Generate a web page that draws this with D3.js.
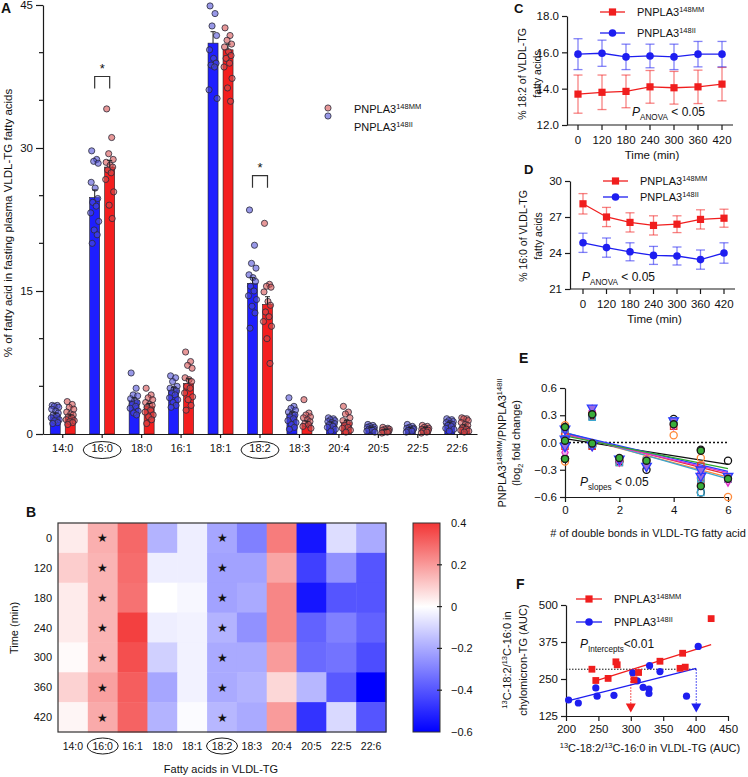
<!DOCTYPE html>
<html><head><meta charset="utf-8">
<script src="https://cdn.jsdelivr.net/npm/d3@7"></script>
<style>
body{margin:0;background:#fff}
svg{display:block}
text{font-family:'Liberation Sans',Arial,Helvetica,sans-serif;fill:#111}
</style>
</head><body>
<svg id="c" width="748" height="777"></svg>
<script>
// ---------------- DATA ----------------
const catsA = ["14:0","16:0","18:0","16:1","18:1","18:2","18:3","20:4","20:5","22:5","22:6"];
const meanII = [2.0,24.8,3.5,4.6,41.0,15.8,2.1,1.1,0.6,0.55,1.1];
const meanMM = [1.8,28.0,2.9,5.3,40.3,13.6,1.1,1.2,0.4,0.6,0.8];
const semII  = [0.2,0.8,0.3,0.3,1.2,0.6,0.2,0.15,0.1,0.1,0.15];
const semMM  = [0.2,0.7,0.3,0.5,0.6,0.8,0.25,0.25,0.06,0.1,0.15];
const ptsII = [
 [3.0,3.0,2.9,2.8,2.6,2.4,2.2,2.0,1.9,1.7,1.5,1.4,1.2,1.1],
 [29.7,28.8,28.6,28.4,26.4,25.8,24.7,24.3,23.9,23.2,22.3,21.4,20.9,20.0],
 [6.4,4.8,4.1,4.0,3.7,3.5,3.3,3.1,2.9,2.7,2.4,2.2,2.0],
 [6.1,5.9,5.5,5.0,4.8,4.7,4.5,4.3,4.1,3.8,3.6,3.3,3.0,2.8],
 [44.9,44.1,42.8,41.8,40.3,39.4,38.9,38.7,38.5,36.1,35.2],
 [23.5,19.8,17.9,17.4,16.7,16.4,16.0,15.5,15.0,14.5,14.1,13.4,12.7,11.1],
 [3.8,2.9,2.7,2.5,2.3,2.1,2.0,1.8,1.6,1.4,1.2,1.0,0.7,0.5],
 [1.7,1.6,1.5,1.4,1.3,1.2,1.1,1.0,0.8,0.7,0.5,0.3],
 [1.0,0.9,0.8,0.7,0.7,0.6,0.5,0.5,0.4,0.3,0.2],
 [1.0,0.8,0.7,0.6,0.6,0.5,0.5,0.4,0.3,0.2],
 [1.6,1.5,1.4,1.3,1.2,1.1,1.0,0.9,0.8,0.6,0.5,0.3]
];
const ptsMM = [
 [3.4,3.1,2.8,2.6,2.3,2.1,2.0,1.8,1.7,1.5,1.4,1.3,1.2,1.0],
 [34.1,31.1,29.4,28.8,28.5,28.2,28.0,27.7,27.4,26.7,25.4,24.0,22.6],
 [4.8,4.1,3.8,3.6,3.3,3.1,3.0,2.8,2.5,2.3,2.0,1.8,1.5,1.1],
 [8.6,7.6,7.2,6.9,5.9,5.7,5.5,5.0,4.8,4.3,3.9,3.6,3.0,2.5],
 [42.6,41.8,41.3,40.9,40.6,40.1,39.7,39.4,38.9,38.5,37.3,36.3,34.9],
 [22.1,15.7,15.5,15.4,14.9,13.9,13.5,12.8,12.3,11.8,11.3,10.0,7.4],
 [3.6,2.2,2.0,1.8,1.7,1.5,1.3,1.1,1.0,0.8,0.6],
 [2.9,2.3,2.1,1.7,1.4,1.2,1.1,0.9,0.7,0.6,0.4,0.2],
 [0.7,0.6,0.5,0.5,0.4,0.3,0.3,0.2,0.2,0.1],
 [0.9,0.8,0.7,0.6,0.5,0.5,0.4,0.3,0.2,0.1],
 [1.7,1.6,1.6,1.4,1.2,1.0,0.9,0.7,0.5,0.4,0.3,0.2]
];
const sigCats = ["16:0","18:2"];
const sigLevel = [37.5, 27.1];
const yTicksA = [0,15,30,45];

const heatCats = ["14:0","16:0","16:1","18:0","18:1","18:2","18:3","20:4","20:5","22:5","22:6"];
const doubleBonds = [0,0,1,0,1,2,3,4,5,5,6];
const times = ["0","120","180","240","300","360","420"];
const heat = [
 [0.04,0.16,0.30,-0.18,-0.04,-0.21,-0.30,0.26,-0.55,-0.08,-0.20],
 [0.10,0.15,0.29,-0.04,-0.04,-0.22,-0.22,0.18,-0.45,-0.26,-0.40],
 [0.04,0.15,0.28,0.00,-0.02,-0.22,-0.20,0.24,-0.55,-0.40,-0.40],
 [0.04,0.15,0.38,-0.04,-0.03,-0.18,-0.26,0.24,-0.37,-0.30,-0.37],
 [0.01,0.15,0.35,-0.11,-0.03,-0.20,-0.20,0.20,-0.35,-0.33,-0.42],
 [0.09,0.19,0.32,-0.21,-0.03,-0.20,-0.18,0.08,-0.17,-0.39,-0.60],
 [0.02,0.17,0.31,-0.18,-0.01,-0.17,-0.20,0.20,-0.48,-0.09,-0.40]
];
const cbarTicks = [0.4,0.2,0,-0.2,-0.4,-0.6];

const c182MM = [13.7,13.8,13.85,14.1,14.05,14.1,14.25];
const c182MMerr = [1.05,0.95,0.9,0.9,0.9,0.92,0.92];
const c182II = [15.9,15.95,15.75,15.8,15.75,15.9,15.9];
const c182IIerr = [0.85,0.72,0.7,0.65,0.7,0.7,0.7];
const d160MM = [28.1,27.0,26.55,26.3,26.4,26.8,26.9];
const d160MMerr = [0.85,0.8,0.8,0.8,0.7,0.8,0.75];
const d160II = [24.85,24.45,24.1,23.8,23.75,23.45,24.0];
const d160IIerr = [0.8,0.8,0.75,0.75,0.75,0.8,0.85];

const fxMM = [240,246,265,277,279,305,312,345,380,376,384,424];
const fyMM = [283,245,252,308,298,247,272,310,337,286,290,454];
const fxII = [204,219,246,248,274,303,310,319,328,328,329,345,386,404];
const fyII = [179,169,220,192,195,271,244,222,216,201,295,275,192,360];
const fitMM = [[242,241],[424,366]];
const fitII = [[206,178],[401,286]];
const refY = 283, refXMM = 300, refXII = 401, arrowY = 154;

// ---------------- HELPERS ----------------
const svg = d3.select("#c");
svg.append("rect").attr("width",748).attr("height",777).attr("fill","#fff");
const INK = "#1a1a1a";
function rich(g, x, y, parts, size, o = {}) {
  const t = g.append("text").attr("x", x).attr("y", y).attr("font-size", size);
  if (o.anchor) t.attr("text-anchor", o.anchor);
  if (o.rotate) t.attr("transform", `rotate(-90,${x},${y})`);
  if (o.bold) t.attr("font-weight", "bold");
  let shift = 0;
  parts.forEach(p => {
    const s = typeof p === "string" ? {t: p} : p;
    const target = s.sup ? -size * 0.4 : s.sub ? size * 0.3 : 0;
    const ts = t.append("tspan").text(s.t).attr("dy", target - shift);
    shift = target;
    if (s.sup || s.sub) ts.attr("font-size", size * 0.68);
    if (s.it) ts.attr("font-style", "italic");
  });
  return t;
}
function label(g, x, y, txt, size, anchor = "start") {
  return g.append("text").attr("x", x).attr("y", y).attr("font-size", size)
    .attr("text-anchor", anchor).text(txt);
}
function styleAxis(a, fs = 11) {
  a.selectAll("path,line").attr("stroke", INK).attr("stroke-width", 1.2);
  a.selectAll("text").attr("font-size", fs).attr("fill", "#111")
    .attr("font-family", "'Liberation Sans',Arial,Helvetica,sans-serif");
}
const jit = [-3, 2, -1, 3.5, -3.5, 0.5, 3, -2, 1.5, -4, 4, -0.5, 2.5, -2.5, 1];

// ---------------- PANEL A ----------------
const gA = svg.append("g");
const xA = d3.scaleBand().domain(catsA).range([43, 477]);
const yA = d3.scaleLinear().domain([0, 45]).range([434, 5]);
const cA = c => xA(c) + xA.bandwidth() / 2;
const groupsA = [
  {means: meanII, sem: semII, pts: ptsII, bar: "#1e1eff", dot: "#4d4dd6", off: -7.5},
  {means: meanMM, sem: semMM, pts: ptsMM, bar: "#f41e1e", dot: "#d64d4d", off: 7.5}
];
groupsA.forEach(gr => {
  gA.selectAll(null).data(catsA).enter().append("rect")
    .attr("x", (c) => cA(c) + gr.off - 5).attr("width", 10)
    .attr("y", (c, i) => yA(gr.means[i])).attr("height", (c, i) => yA(0) - yA(gr.means[i]))
    .attr("fill", gr.bar).attr("stroke", "#222").attr("stroke-width", 0.6);
});
groupsA.forEach(gr => {
  catsA.forEach((c, i) => {
    gA.selectAll(null).data(gr.pts[i]).enter().append("circle")
      .attr("cx", (v, k) => cA(c) + gr.off + jit[k % jit.length])
      .attr("cy", v => yA(v)).attr("r", 3.1)
      .attr("fill", gr.dot).attr("fill-opacity", 0.58)
      .attr("stroke", "#2a2a38").attr("stroke-width", 0.8);
  });
});
groupsA.forEach(gr => {
  catsA.forEach((c, i) => {
    const x = cA(c) + gr.off, y0 = yA(gr.means[i]), y1 = yA(gr.means[i] + gr.sem[i]);
    gA.append("line").attr("x1", x).attr("x2", x).attr("y1", y0).attr("y2", y1).attr("stroke", "#222").attr("stroke-width", 1);
    gA.append("line").attr("x1", x - 2.5).attr("x2", x + 2.5).attr("y1", y1).attr("y2", y1).attr("stroke", "#222").attr("stroke-width", 1);
  });
});
const axA = gA.append("g").attr("transform", "translate(43,0)")
  .call(d3.axisLeft(yA).tickValues(yTicksA).tickSize(7).tickSizeOuter(0).tickPadding(3));
styleAxis(axA, 11.5);
const minorA = d3.range(5, 45, 5).filter(v => v % 15 !== 0);
gA.selectAll(null).data(minorA).enter().append("line")
  .attr("x1", 39).attr("x2", 43).attr("y1", v => yA(v)).attr("y2", v => yA(v))
  .attr("stroke", INK).attr("stroke-width", 1.2);
const axAx = gA.append("g").attr("transform", "translate(0,434)")
  .call(d3.axisBottom(xA).tickSize(4).tickSizeOuter(0).tickPadding(6));
styleAxis(axAx, 11);
sigCats.forEach((c, j) => {
  gA.append("ellipse").attr("cx", cA(c)).attr("cy", 450).attr("rx", 19).attr("ry", 8.5)
    .attr("fill", "none").attr("stroke", INK).attr("stroke-width", 1);
  const top = yA(sigLevel[j]);
  const xb = cA(c) - 7.5, xr = cA(c) + 7.5;
  gA.append("path").attr("d", `M${xb},${top + 12}V${top}H${xr}V${top + 12}`)
    .attr("fill", "none").attr("stroke", "#333").attr("stroke-width", 1.2);
  label(gA, cA(c), top - 4, "*", 13, "middle");
});
rich(gA, 12, 223, ["% of fatty acid in fasting plasma VLDL-TG fatty acids"], 11.5, {anchor: "middle", rotate: true});
[{y: 108, ty: 113, col: "#d64d4d", sup: "148MM"}, {y: 116, ty: 131, col: "#4d4dd6", sup: "148II"}].forEach(l => {
  gA.append("circle").attr("cx", 328).attr("cy", l.y).attr("r", 3.1).attr("fill", l.col).attr("fill-opacity", 0.58)
    .attr("stroke", "#2a2a38").attr("stroke-width", 0.8);
  rich(gA, 354, l.ty, ["PNPLA3", {t: l.sup, sup: true}], 11);
});
label(gA, 1, 13, "A", 14).attr("font-weight", "bold");

// ---------------- PANEL B ----------------
const gB = svg.append("g");
const xB = d3.scaleBand().domain(heatCats).range([58, 386]);
const yB = d3.scaleBand().domain(times).range([523, 732]);
const color = d3.scaleLinear().domain([-0.6, 0, 0.4]).range(["#0000ff", "#ffffff", "#f23636"]);
times.forEach((t, r) => {
  heatCats.forEach((c, k) => {
    gB.append("rect").attr("x", xB(c)).attr("y", yB(t)).attr("width", xB.bandwidth() + 0.5)
      .attr("height", yB.bandwidth() + 0.5).attr("fill", color(heat[r][k]));
  });
  sigCats.forEach(c => {
    label(gB, xB(c) + xB.bandwidth() / 2, yB(t) + yB.bandwidth() / 2 + 4.5, "★", 12, "middle");
  });
  label(gB, 52, yB(t) + yB.bandwidth() / 2 + 4, t, 11, "end");
});
gB.append("rect").attr("x", 58).attr("y", 523).attr("width", 328).attr("height", 209)
  .attr("fill", "none").attr("stroke", "#333").attr("stroke-width", 1.2);
heatCats.forEach(c => label(gB, xB(c) + xB.bandwidth() / 2, 750, c, 10.5, "middle"));
sigCats.forEach(c => gB.append("ellipse").attr("cx", xB(c) + xB.bandwidth() / 2).attr("cy", 746)
  .attr("rx", 15.5).attr("ry", 8).attr("fill", "none").attr("stroke", INK).attr("stroke-width", 1));
label(gB, 221, 773, "Fatty acids in VLDL-TG", 11, "middle");
rich(gB, 18, 628, ["Time (min)"], 11, {anchor: "middle", rotate: true});
label(gB, 26, 517, "B", 14).attr("font-weight", "bold");
const yCb = d3.scaleLinear().domain([-0.6, 0.4]).range([732, 523]);
const defs = svg.append("defs");
const grad = defs.append("linearGradient").attr("id", "cb").attr("x1", 0).attr("x2", 0).attr("y1", 1).attr("y2", 0);
d3.range(-0.6, 0.401, 0.05).forEach(v => grad.append("stop")
  .attr("offset", (v + 0.6) / 1.0).attr("stop-color", color(v)));
gB.append("rect").attr("x", 413).attr("y", 523).attr("width", 27).attr("height", 209)
  .attr("fill", "url(#cb)").attr("stroke", "#333").attr("stroke-width", 1);
cbarTicks.forEach(v => {
  if (v > -0.6 && v < 0.4) gB.append("line").attr("x1", 437).attr("x2", 442).attr("y1", yCb(v)).attr("y2", yCb(v))
    .attr("stroke", "#222").attr("stroke-width", 1.2);
  label(gB, 451, yCb(v) + 4, v === 0 ? "0" : d3.format(".1f")(v), 11);
});

// ---------------- PANEL C & D ----------------
function marker(g, shape, x, y, col) {
  if (shape === "sq") g.append("rect").attr("x", x - 3.6).attr("y", y - 3.6).attr("width", 7.2).attr("height", 7.2).attr("fill", col);
  else g.append("circle").attr("cx", x).attr("cy", y).attr("r", 3.8).attr("fill", col);
}
function timePanel(cfg) {
  const g = svg.append("g");
  const x = d3.scalePoint().domain(times).range(cfg.xr);
  const y = d3.scaleLinear().domain(cfg.yd).range(cfg.yr);
  const ax = g.append("g").attr("transform", `translate(${cfg.ax},0)`)
    .call(d3.axisLeft(y).tickValues(cfg.yt).tickSize(5).tickSizeOuter(0).tickPadding(3));
  styleAxis(ax, 11.5);
  g.append("line").attr("x1", cfg.ax).attr("x2", cfg.xend).attr("y1", cfg.yr[0]).attr("y2", cfg.yr[0])
    .attr("stroke", INK).attr("stroke-width", 1.2);
  times.forEach(t => {
    g.append("line").attr("x1", x(t)).attr("x2", x(t)).attr("y1", cfg.yr[0]).attr("y2", cfg.yr[0] + 5)
      .attr("stroke", INK).attr("stroke-width", 1.2);
    label(g, x(t), cfg.yr[0] + 19, t, 11.5, "middle");
  });
  label(g, (cfg.ax + cfg.xend) / 2 + 2, cfg.yr[0] + 34, "Time (min)", 11.5, "middle");
  const line = d3.line().x((d, i) => x(times[i])).y(d => y(d));
  cfg.series.forEach(s => {
    s.vals.forEach((v, i) => {
      const xx = x(times[i]);
      g.append("line").attr("x1", xx).attr("x2", xx).attr("y1", y(v - s.err[i])).attr("y2", y(v + s.err[i]))
        .attr("stroke", s.col).attr("stroke-opacity", 0.55).attr("stroke-width", 1.3);
      [v - s.err[i], v + s.err[i]].forEach(e => g.append("line").attr("x1", xx - 4.5).attr("x2", xx + 4.5)
        .attr("y1", y(e)).attr("y2", y(e)).attr("stroke", s.col).attr("stroke-opacity", 0.55).attr("stroke-width", 1.3));
    });
    g.append("path").attr("d", line(s.vals)).attr("fill", "none").attr("stroke", s.col).attr("stroke-width", 1.3);
    s.vals.forEach((v, i) => marker(g, s.shape, x(times[i]), y(v), s.col));
  });
  cfg.series.forEach((s, k) => {
    const ly = cfg.legY[k];
    g.append("line").attr("x1", cfg.legX).attr("x2", cfg.legX + 25).attr("y1", ly).attr("y2", ly)
      .attr("stroke", s.col).attr("stroke-width", 1.3);
    marker(g, s.shape, cfg.legX + 12.5, ly, s.col);
    rich(g, cfg.legX + 37, ly + 4, ["PNPLA3", {t: s.sup, sup: true}], 11);
  });
  rich(g, cfg.pX, cfg.pY, [{t: "P", it: true}, {t: "ANOVA", sub: true}, " < 0.05"], 12);
  cfg.ylab.forEach((t, k) => rich(g, cfg.ylabX[k], cfg.ylabY, [t], 10.5, {anchor: "middle", rotate: true}));
  label(g, cfg.letter[1], cfg.letter[2], cfg.letter[0], 13).attr("font-weight", "bold");
}
timePanel({
  xr: [578, 722], yd: [12, 18], yr: [125, 16], ax: 567, xend: 733, yt: [12, 14, 16, 18],
  series: [
    {vals: c182MM, err: c182MMerr, col: "#f01e1e", shape: "sq", sup: "148MM"},
    {vals: c182II, err: c182IIerr, col: "#1e1ef0", shape: "ci", sup: "148II"}
  ],
  legX: 600, legY: [12, 33], pX: 632, pY: 116,
  ylab: ["% 18:2 of VLDL-TG", "fatty acids"], ylabX: [526, 541], ylabY: 74, letter: ["C", 514, 13]
});
timePanel({
  xr: [583, 724], yd: [21, 30], yr: [289, 181], ax: 570, xend: 735, yt: [21, 24, 27, 30],
  series: [
    {vals: d160MM, err: d160MMerr, col: "#f01e1e", shape: "sq", sup: "148MM"},
    {vals: d160II, err: d160IIerr, col: "#1e1ef0", shape: "ci", sup: "148II"}
  ],
  legX: 603, legY: [181, 197], pX: 582, pY: 281,
  ylab: ["% 16:0 of VLDL-TG", "fatty acids"], ylabX: [527, 542], ylabY: 236, letter: ["D", 524, 174]
});

// ---------------- PANEL E ----------------
const gE = svg.append("g");
const xE = d3.scaleLinear().domain([0, 6]).range([565, 728]);
const yE = d3.scaleLinear().domain([-0.6, 0.6]).range([497, 388]);
const axEy = gE.append("g").attr("transform", "translate(565,0)")
  .call(d3.axisLeft(yE).tickValues([-0.6, -0.3, 0, 0.3, 0.6]).tickFormat(d3.format(".1f")).tickSize(5).tickSizeOuter(0).tickPadding(3));
styleAxis(axEy, 11.5);
const axEx = gE.append("g").attr("transform", "translate(0,497)")
  .call(d3.axisBottom(xE).tickValues([0, 2, 4, 6]).tickFormat(d3.format("d")).tickSize(5).tickSizeOuter(0).tickPadding(4));
styleAxis(axEx, 11.5);
gE.append("line").attr("x1", 565).attr("x2", 728).attr("y1", yE(0)).attr("y2", yE(0))
  .attr("stroke", "#111").attr("stroke-width", 1.6).attr("stroke-dasharray", "2,2");
const eStyles = [
  {sym: d3.symbolCircle, stroke: "#111", fill: "none", line: "#111"},
  {sym: d3.symbolSquare, stroke: "#e23030", fill: "none", line: "#e23030"},
  {sym: d3.symbolSquare, stroke: "#3aa6cf", fill: "none", line: "#3aa6cf"},
  {sym: d3.symbolTriangle, stroke: "#2a3cff", fill: "#9a6ae0", line: "#2a3cff", rot: 180},
  {sym: d3.symbolDiamond, stroke: "#e030c8", fill: "#f4b0ec", line: "#e030c8"},
  {sym: d3.symbolCircle, stroke: "#ff8a3a", fill: "none", line: "#ff8a3a"},
  {sym: d3.symbolCircle, stroke: "#1a1a1a", fill: "#3aae3a", line: "#2ea82e"}
];
const drawOrder = [5, 0, 1, 2, 4, 3, 6];
drawOrder.forEach(r => {
  const xs = doubleBonds, ys = heat[r];
  const mx = d3.mean(xs), my = d3.mean(ys);
  const b = d3.sum(xs.map((v, i) => (v - mx) * (ys[i] - my))) / d3.sum(xs.map(v => (v - mx) ** 2));
  const a = my - b * mx;
  gE.append("line").attr("x1", xE(0)).attr("x2", xE(6)).attr("y1", yE(a)).attr("y2", yE(a + b * 6))
    .attr("stroke", eStyles[r].line).attr("stroke-width", 1.3);
});
drawOrder.forEach(r => {
  const st = eStyles[r];
  const sym = d3.symbol().type(st.sym).size(st.sym === d3.symbolDiamond ? 34 : 40);
  heat[r].forEach((v, k) => {
    gE.append("path").attr("d", sym())
      .attr("transform", `translate(${xE(doubleBonds[k])},${yE(v)})${st.rot ? " rotate(180)" : ""}`)
      .attr("fill", st.fill).attr("stroke", st.stroke).attr("stroke-width", 1.3);
  });
});
rich(gE, 580, 486, [{t: "P", it: true}, {t: "slopes", sub: true}, " < 0.05"], 12);
label(gE, 648, 537, "# of double bonds in VLDL-TG fatty acid", 11, "middle");
rich(gE, 506, 443, ["PNPLA3", {t: "148MM", sup: true}, "/PNPLA3", {t: "148II", sup: true}], 11, {anchor: "middle", rotate: true});
rich(gE, 520, 443, ["(log", {t: "2", sub: true}, " fold change)"], 11, {anchor: "middle", rotate: true});
label(gE, 519, 363, "E", 14).attr("font-weight", "bold");

// ---------------- PANEL F ----------------
const gF = svg.append("g");
const xF = d3.scaleLinear().domain([200, 450]).range([566, 728]);
const yF = d3.scaleLinear().domain([125, 500]).range([716, 605]);
const axFy = gF.append("g").attr("transform", "translate(566,0)")
  .call(d3.axisLeft(yF).tickValues([125, 250, 375, 500]).tickSize(5).tickSizeOuter(0).tickPadding(3));
styleAxis(axFy, 11.5);
const axFx = gF.append("g").attr("transform", "translate(0,716)")
  .call(d3.axisBottom(xF).tickValues([200, 250, 300, 350, 400, 450]).tickSize(5).tickSizeOuter(0).tickPadding(4));
styleAxis(axFx, 11.5);
gF.append("line").attr("x1", 566).attr("x2", xF(refXII)).attr("y1", yF(refY)).attr("y2", yF(refY))
  .attr("stroke", "#111").attr("stroke-width", 1).attr("stroke-dasharray", "1.5,1.5");
[{x: refXMM, c: "#f01e1e"}, {x: refXII, c: "#1e1ef0"}].forEach(a => {
  gF.append("line").attr("x1", xF(a.x)).attr("x2", xF(a.x)).attr("y1", yF(refY)).attr("y2", yF(arrowY))
    .attr("stroke", a.c).attr("stroke-width", 1).attr("stroke-dasharray", "1.5,1.5");
  const cx = xF(a.x), cy = yF(arrowY);
  gF.append("path").attr("d", `M${cx - 5},${cy - 4}L${cx + 5},${cy - 4}L${cx},${cy + 5}Z`).attr("fill", a.c);
});
gF.append("line").attr("x1", xF(fitMM[0][0])).attr("x2", xF(fitMM[1][0])).attr("y1", yF(fitMM[0][1])).attr("y2", yF(fitMM[1][1]))
  .attr("stroke", "#f01e1e").attr("stroke-width", 1.3);
gF.append("line").attr("x1", xF(fitII[0][0])).attr("x2", xF(fitII[1][0])).attr("y1", yF(fitII[0][1])).attr("y2", yF(fitII[1][1]))
  .attr("stroke", "#1e1ef0").attr("stroke-width", 1.3);
fxII.forEach((v, i) => gF.append("circle").attr("cx", xF(v)).attr("cy", yF(fyII[i])).attr("r", 3.6).attr("fill", "#1e1ef0"));
fxMM.forEach((v, i) => gF.append("rect").attr("x", xF(v) - 3.4).attr("y", yF(fyMM[i]) - 3.4)
  .attr("width", 6.8).attr("height", 6.8).attr("fill", "#f01e1e"));
[{y: 599, c: "#f01e1e", sh: "sq", sup: "148MM"}, {y: 622, c: "#1e1ef0", sh: "ci", sup: "148II"}].forEach(l => {
  gF.append("line").attr("x1", 576).attr("x2", 602).attr("y1", l.y).attr("y2", l.y).attr("stroke", l.c).attr("stroke-width", 1.3);
  marker(gF, l.sh, 589, l.y, l.c);
  rich(gF, 614, l.y + 4, ["PNPLA3", {t: l.sup, sup: true}], 11);
});
rich(gF, 580, 648, [{t: "P", it: true}, {t: "Intercepts", sub: true}, "<0.01"], 12);
rich(gF, 650, 752, [{t: "13", sup: true}, "C-18:2/", {t: "13", sup: true}, "C-16:0 in VLDL-TG (AUC)"], 11, {anchor: "middle"});
rich(gF, 511, 660, [{t: "13", sup: true}, "C-18:2/", {t: "13", sup: true}, "C-16:0 in"], 11, {anchor: "middle", rotate: true});
rich(gF, 527, 660, ["chylomicron-TG (AUC)"], 11, {anchor: "middle", rotate: true});
label(gF, 516, 589, "F", 14).attr("font-weight", "bold");
</script>
</body></html>
